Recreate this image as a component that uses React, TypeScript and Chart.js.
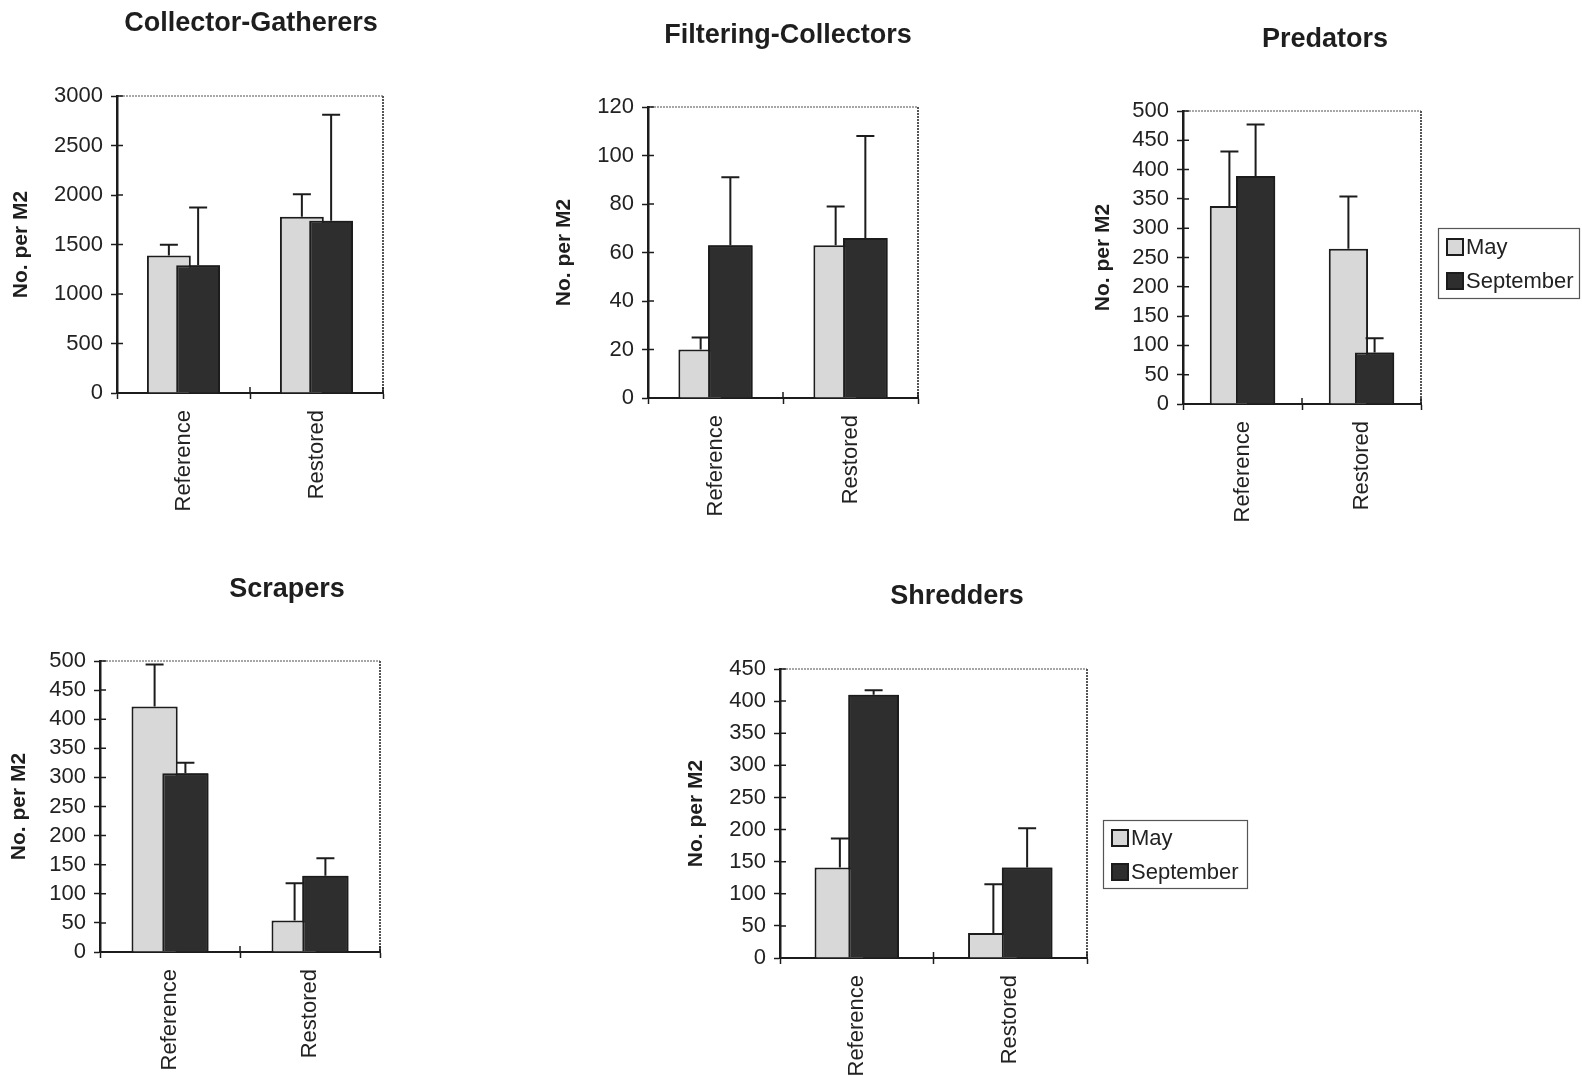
import { useEffect, useRef } from 'react';
import { Chart, registerables } from 'chart.js';

Chart.register(...registerables);

// ---- data ----
const categories = ['Reference', 'Restored'];
const seriesNames = ['May', 'September'];

const collectorMay = [1390, 1780];
const collectorSep = [1290, 1740];
const collectorMayErr = [108, 227];
const collectorSepErr = [585, 1071];
const collectorAxis = [0, 3000, 500];

const filteringMay = [20, 63];
const filteringSep = [63, 66];
const filteringMayErr = [5, 16];
const filteringSepErr = [28, 42];
const filteringAxis = [0, 120, 20];

const predatorMay = [338, 265];
const predatorSep = [389, 88];
const predatorMayErr = [93, 89];
const predatorSepErr = [88, 24];
const predatorAxis = [0, 500, 50];

const scraperMay = [422, 54];
const scraperSep = [307, 131];
const scraperMayErr = [72, 64];
const scraperSepErr = [18, 30];
const scraperAxis = [0, 500, 50];

const shredderMay = [141, 39];
const shredderSep = [410, 141];
const shredderMayErr = [45, 76];
const shredderSepErr = [7, 61];
const shredderAxis = [0, 450, 50];

const yAxisTitle = 'No. per M2';

// ---- styling ----
const FONT = "'Liberation Sans', Arial, Helvetica, sans-serif";
const MAY_FILL = '#d8d8d8';
const SEP_FILL = '#2e2e2e';
const INK = '#1c1c1c';
const TEXT = '#222222';
const X_AXIS_HEIGHT = 120;

type Panel = {
  title: string;
  may: number[];
  sep: number[];
  mayErr: number[];
  sepErr: number[];
  axis: number[];
  // page geometry of the canvas and plot area
  x0: number;
  y0: number;
  width: number;
  plot: { l: number; t: number; r: number; b: number };
  titlePos: [number, number];
  legendBox?: { x: number; y: number; w: number; h: number; rows: number[] };
};

const panels: Panel[] = [
  {
    title: 'Collector-Gatherers',
    may: collectorMay, sep: collectorSep, mayErr: collectorMayErr, sepErr: collectorSepErr, axis: collectorAxis,
    x0: 9, y0: 0, width: 491,
    plot: { l: 117, t: 96, r: 383, b: 393 },
    titlePos: [251, 31],
  },
  {
    title: 'Filtering-Collectors',
    may: filteringMay, sep: filteringSep, mayErr: filteringMayErr, sepErr: filteringSepErr, axis: filteringAxis,
    x0: 552, y0: 0, width: 508,
    plot: { l: 648, t: 107, r: 918, b: 398 },
    titlePos: [788, 43],
  },
  {
    title: 'Predators',
    may: predatorMay, sep: predatorSep, mayErr: predatorMayErr, sepErr: predatorSepErr, axis: predatorAxis,
    x0: 1091, y0: 0, width: 491,
    plot: { l: 1183, t: 111, r: 1421, b: 404 },
    titlePos: [1325, 47],
    legendBox: { x: 1438, y: 228, w: 141, h: 70, rows: [247, 281] },
  },
  {
    title: 'Scrapers',
    may: scraperMay, sep: scraperSep, mayErr: scraperMayErr, sepErr: scraperSepErr, axis: scraperAxis,
    x0: 7, y0: 560, width: 553,
    plot: { l: 100, t: 661, r: 380, b: 952 },
    titlePos: [287, 597],
  },
  {
    title: 'Shredders',
    may: shredderMay, sep: shredderSep, mayErr: shredderMayErr, sepErr: shredderSepErr, axis: shredderAxis,
    x0: 684, y0: 560, width: 586,
    plot: { l: 780, t: 669, r: 1087, b: 958 },
    titlePos: [957, 604],
    legendBox: { x: 1103, y: 820, w: 144, h: 68, rows: [838, 872] },
  },
];

// Grey frame on the top and right edges of the plot area
const plotFrame = {
  id: 'plotFrame',
  beforeDraw(chart: any) {
    const { ctx, chartArea: a } = chart;
    ctx.save();
    ctx.strokeStyle = '#8a8a8a';
    ctx.lineWidth = 1.6;
    ctx.setLineDash([2, 1]);
    ctx.beginPath();
    ctx.moveTo(a.left, a.top);
    ctx.lineTo(a.right, a.top);
    ctx.stroke();
    ctx.strokeStyle = '#555555';
    ctx.lineWidth = 2;
    ctx.beginPath();
    ctx.moveTo(a.right, a.top);
    ctx.lineTo(a.right, a.bottom);
    ctx.stroke();
    ctx.restore();
  },
  // tick marks that cross into the plot
  beforeDatasetsDraw(chart: any) {
    const { ctx, chartArea: a, scales } = chart;
    ctx.save();
    ctx.strokeStyle = INK;
    ctx.lineWidth = 1.5;
    ctx.beginPath();
    scales.y.ticks.forEach((t: any) => {
      const y = scales.y.getPixelForValue(t.value);
      ctx.moveTo(a.left, y);
      ctx.lineTo(a.left + 6, y);
    });
    for (let i = 0; i <= categories.length; i++) {
      const x = scales.x.getPixelForValue(i - 0.5);
      ctx.moveTo(x, a.bottom);
      ctx.lineTo(x, a.bottom - 6);
    }
    ctx.stroke();
    ctx.restore();
  },
};

// September bars sit over the May bars they overlap; then the +1 error bars
const errorBars = {
  id: 'errorBars',
  afterDatasetsDraw(chart: any) {
    const { ctx, scales } = chart;
    chart.getDatasetMeta(1).controller.draw();
    ctx.save();
    ctx.strokeStyle = INK;
    ctx.lineWidth = 2;
    chart.data.datasets.forEach((ds: any, di: number) => {
      const meta = chart.getDatasetMeta(di);
      meta.data.forEach((bar: any, i: number) => {
        const top = scales.y.getPixelForValue(ds.data[i] + ds.errors[i]);
        ctx.beginPath();
        ctx.moveTo(bar.x, bar.y);
        ctx.lineTo(bar.x, top);
        ctx.moveTo(bar.x - 9, top);
        ctx.lineTo(bar.x + 9, top);
        ctx.stroke();
      });
    });
    ctx.restore();
  },
};

// Panel heading and the boxed legend
const panelText = {
  id: 'panelText',
  afterDraw(chart: any, _args: any, opts: any) {
    const { ctx } = chart;
    ctx.save();
    ctx.font = `bold 27px ${FONT}`;
    ctx.fillStyle = '#1e1e1e';
    ctx.textAlign = 'center';
    ctx.textBaseline = 'alphabetic';
    ctx.fillText(opts.title, opts.titleX, opts.titleY);
    const box = opts.box;
    if (box) {
      ctx.fillStyle = '#ffffff';
      ctx.fillRect(box.x, box.y, box.w, box.h);
      ctx.strokeStyle = '#555';
      ctx.lineWidth = 1.2;
      ctx.strokeRect(box.x + 0.5, box.y + 0.5, box.w, box.h);
      chart.data.datasets.forEach((ds: any, i: number) => {
        const cy = box.rows[i];
        ctx.fillStyle = ds.backgroundColor;
        ctx.fillRect(box.x + 9, cy - 8, 16, 16);
        ctx.strokeStyle = INK;
        ctx.lineWidth = 2;
        ctx.strokeRect(box.x + 9, cy - 8, 16, 16);
        ctx.fillStyle = TEXT;
        ctx.font = `22px ${FONT}`;
        ctx.textAlign = 'left';
        ctx.textBaseline = 'middle';
        ctx.fillText(ds.label, box.x + 28, cy + 1);
      });
    }
    ctx.restore();
  },
};

function BarPanel({ p }: { p: Panel }) {
  const ref = useRef<HTMLCanvasElement | null>(null);
  const height = p.plot.b - p.y0 + X_AXIS_HEIGHT;
  const yWidth = p.plot.l - p.x0;
  const padRight = p.width - (p.plot.r - p.x0);
  const padTop = p.plot.t - p.y0;

  useEffect(() => {
    if (!ref.current) return;
    const [yMin, yMax, yStep] = p.axis;
    const chart = new Chart(ref.current, {
      type: 'bar',
      data: {
        labels: categories,
        datasets: [
          {
            label: seriesNames[0],
            data: p.may,
            errors: p.mayErr,
            backgroundColor: MAY_FILL,
            borderColor: INK,
            borderWidth: 2,
            categoryPercentage: 0.44,
            barPercentage: 1.5,
          } as any,
          {
            label: seriesNames[1],
            data: p.sep,
            errors: p.sepErr,
            backgroundColor: SEP_FILL,
            borderColor: INK,
            borderWidth: 2,
            categoryPercentage: 0.44,
            barPercentage: 1.5,
          } as any,
        ],
      },
      options: {
        responsive: false,
        animation: false,
        events: [],
        layout: { padding: { top: padTop, right: padRight, left: 0, bottom: 0 } },
        plugins: {
          legend: { display: false },
          tooltip: { enabled: false },
          panelText: {
            title: p.title,
            titleX: p.titlePos[0] - p.x0,
            titleY: p.titlePos[1] - p.y0,
            box: p.legendBox
              ? {
                  x: p.legendBox.x - p.x0,
                  y: p.legendBox.y - p.y0,
                  w: p.legendBox.w,
                  h: p.legendBox.h,
                  rows: p.legendBox.rows.map((r) => r - p.y0),
                }
              : null,
          },
        } as any,
        scales: {
          x: {
            type: 'category',
            offset: true,
            grid: {
              offset: true,
              drawOnChartArea: false,
              drawTicks: true,
              tickLength: 6,
              tickWidth: 1.5,
              tickColor: INK,
            },
            border: { display: true, color: INK, width: 2 },
            ticks: {
              autoSkip: false,
              minRotation: 90,
              maxRotation: 90,
              padding: 11,
              color: TEXT,
              font: { family: FONT, size: 22 },
            },
            afterFit: (scale: any) => {
              scale.height = X_AXIS_HEIGHT;
            },
          },
          y: {
            type: 'linear',
            min: yMin,
            max: yMax,
            grid: {
              drawOnChartArea: false,
              drawTicks: true,
              tickLength: 6,
              tickWidth: 1.5,
              tickColor: INK,
            },
            border: { display: true, color: INK, width: 2.5 },
            ticks: {
              stepSize: yStep,
              autoSkip: false,
              padding: 8,
              color: TEXT,
              font: { family: FONT, size: 22 },
              callback: (v: any) => String(v),
            },
            title: {
              display: true,
              text: yAxisTitle,
              color: '#1e1e1e',
              font: { family: FONT, size: 21, weight: 'bold' },
              padding: 0,
            },
            afterFit: (scale: any) => {
              scale.width = yWidth;
            },
          },
        },
      },
      plugins: [plotFrame, errorBars, panelText],
    });
    return () => chart.destroy();
  }, [p]);

  return (
    <canvas
      ref={ref}
      width={p.width}
      height={height}
      style={{ position: 'absolute', left: p.x0, top: p.y0, width: p.width, height }}
    />
  );
}

export default function App() {
  return (
    <div
      style={{
        position: 'absolute',
        left: 0,
        top: 0,
        width: 1582,
        height: 1076,
        overflow: 'hidden',
        background: '#ffffff',
      }}
    >
      {panels.map((p) => (
        <BarPanel key={p.title} p={p} />
      ))}
    </div>
  );
}
